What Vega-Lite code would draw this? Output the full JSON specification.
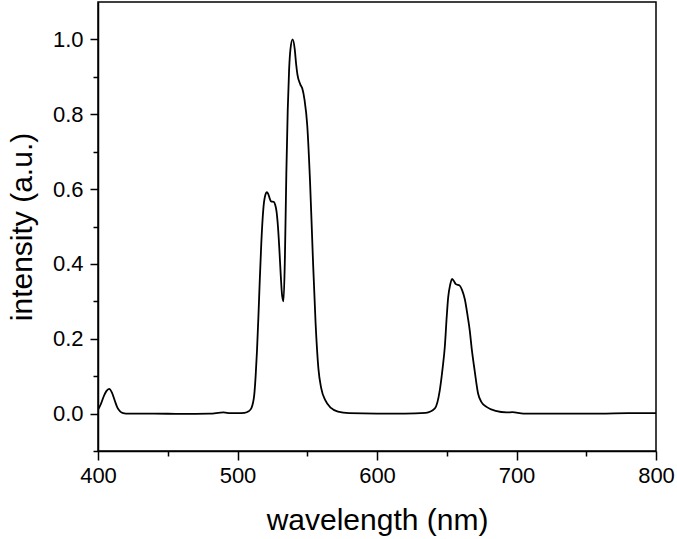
{
  "$schema": "https://vega.github.io/schema/vega-lite/v6.json",
  "width": 558,
  "height": 449,
  "autosize": "none",
  "padding": {"left": 98, "top": 2, "right": 21, "bottom": 88},
  "config": {
    "view": {"stroke": "black", "strokeWidth": 1.5},
    "font": "Liberation Sans",
    "axis": {"grid": false, "labelFlush": false, "labelOverlap": false, "domainColor": "black", "domainWidth": 1.5, "tickColor": "black", "tickWidth": 1.5, "labelColor": "black", "titleColor": "black", "labelFont": "Liberation Sans", "titleFont": "Liberation Sans", "titleFontWeight": "normal"}
  },
  "data": {"values": [
    {"w": 400, "v": 0.01}, {"w": 402, "v": 0.025}, {"w": 404, "v": 0.045}, {"w": 406, "v": 0.06}, {"w": 408, "v": 0.066},
    {"w": 410, "v": 0.056}, {"w": 412, "v": 0.035}, {"w": 414, "v": 0.015}, {"w": 416, "v": 0.005}, {"w": 418, "v": 0.001},
    {"w": 420, "v": 0.0}, {"w": 440, "v": 0.0}, {"w": 460, "v": -0.001}, {"w": 480, "v": 0.0}, {"w": 490, "v": 0.003},
    {"w": 495, "v": 0.001}, {"w": 500, "v": 0.001}, {"w": 505, "v": 0.002}, {"w": 508, "v": 0.006}, {"w": 510, "v": 0.015},
    {"w": 512, "v": 0.05}, {"w": 513, "v": 0.1}, {"w": 514, "v": 0.17}, {"w": 515, "v": 0.26}, {"w": 516, "v": 0.36},
    {"w": 517, "v": 0.45}, {"w": 518, "v": 0.52}, {"w": 519, "v": 0.565}, {"w": 520, "v": 0.585}, {"w": 521, "v": 0.592},
    {"w": 522, "v": 0.587}, {"w": 523, "v": 0.576}, {"w": 524, "v": 0.567}, {"w": 526, "v": 0.566}, {"w": 527, "v": 0.558},
    {"w": 528, "v": 0.54}, {"w": 529, "v": 0.5}, {"w": 530, "v": 0.44}, {"w": 531, "v": 0.37}, {"w": 532, "v": 0.315},
    {"w": 533, "v": 0.3}, {"w": 534, "v": 0.42}, {"w": 535, "v": 0.64}, {"w": 536, "v": 0.81}, {"w": 537, "v": 0.92},
    {"w": 538, "v": 0.975}, {"w": 539.5, "v": 1.0}, {"w": 541, "v": 0.975}, {"w": 542, "v": 0.935}, {"w": 543, "v": 0.905},
    {"w": 545, "v": 0.88}, {"w": 546.5, "v": 0.868}, {"w": 548, "v": 0.84}, {"w": 550, "v": 0.77}, {"w": 552, "v": 0.62},
    {"w": 554, "v": 0.42}, {"w": 556, "v": 0.24}, {"w": 558, "v": 0.12}, {"w": 560, "v": 0.068}, {"w": 563, "v": 0.035},
    {"w": 567, "v": 0.015}, {"w": 572, "v": 0.005}, {"w": 580, "v": 0.001}, {"w": 600, "v": 0.0}, {"w": 620, "v": 0.0},
    {"w": 635, "v": 0.002}, {"w": 641.5, "v": 0.014}, {"w": 645, "v": 0.062}, {"w": 647, "v": 0.12}, {"w": 648.6, "v": 0.178},
    {"w": 650, "v": 0.26}, {"w": 651, "v": 0.31}, {"w": 652.5, "v": 0.345}, {"w": 653.8, "v": 0.36}, {"w": 655, "v": 0.355},
    {"w": 656.5, "v": 0.346}, {"w": 659.3, "v": 0.342}, {"w": 661, "v": 0.33}, {"w": 663, "v": 0.305}, {"w": 665, "v": 0.26},
    {"w": 666.5, "v": 0.222}, {"w": 668, "v": 0.17}, {"w": 670, "v": 0.115}, {"w": 672.5, "v": 0.053}, {"w": 675, "v": 0.03},
    {"w": 678.5, "v": 0.018}, {"w": 685, "v": 0.007}, {"w": 693, "v": 0.003}, {"w": 697, "v": 0.004}, {"w": 705, "v": 0.0},
    {"w": 730, "v": 0.0}, {"w": 760, "v": 0.0}, {"w": 780, "v": 0.001}, {"w": 800, "v": 0.001}
  ]},
  "layer": [
    {
      "mark": {"type": "line", "color": "black", "strokeWidth": 1.8, "interpolate": "monotone", "clip": true},
      "encoding": {
        "x": {"field": "w", "type": "quantitative", "scale": {"domain": [400, 800], "nice": false, "zero": false},
          "axis": {"values": [400, 500, 600, 700, 800], "tickSize": 9, "labelFontSize": 22, "labelPadding": 5, "title": "wavelength (nm)", "titleFontSize": 30, "titlePadding": 19, "format": "d"}},
        "y": {"field": "v", "type": "quantitative", "scale": {"domain": [-0.1, 1.1], "nice": false, "zero": false},
          "axis": {"values": [0, 0.2, 0.4, 0.6, 0.8, 1.0], "tickSize": 8, "labelFontSize": 22, "labelPadding": 7, "format": ".1f", "title": "intensity (a.u.)", "titleFontSize": 30, "titlePadding": 15}}
      }
    },
    {
      "mark": {"type": "line", "color": "black", "strokeWidth": 1.6, "interpolate": "monotone", "clip": true, "opacity": 0},
      "encoding": {
        "x": {"field": "w", "type": "quantitative", "axis": {"orient": "bottom", "values": [450, 550, 650, 750], "tickSize": 5, "labels": false, "domain": false, "title": null}},
        "y": {"field": "v", "type": "quantitative", "axis": {"orient": "left", "values": [-0.1, 0.1, 0.3, 0.5, 0.7, 0.9], "tickSize": 5, "labels": false, "domain": false, "title": null}}
      }
    }
  ],
  "resolve": {"axis": {"x": "independent", "y": "independent"}}
}
